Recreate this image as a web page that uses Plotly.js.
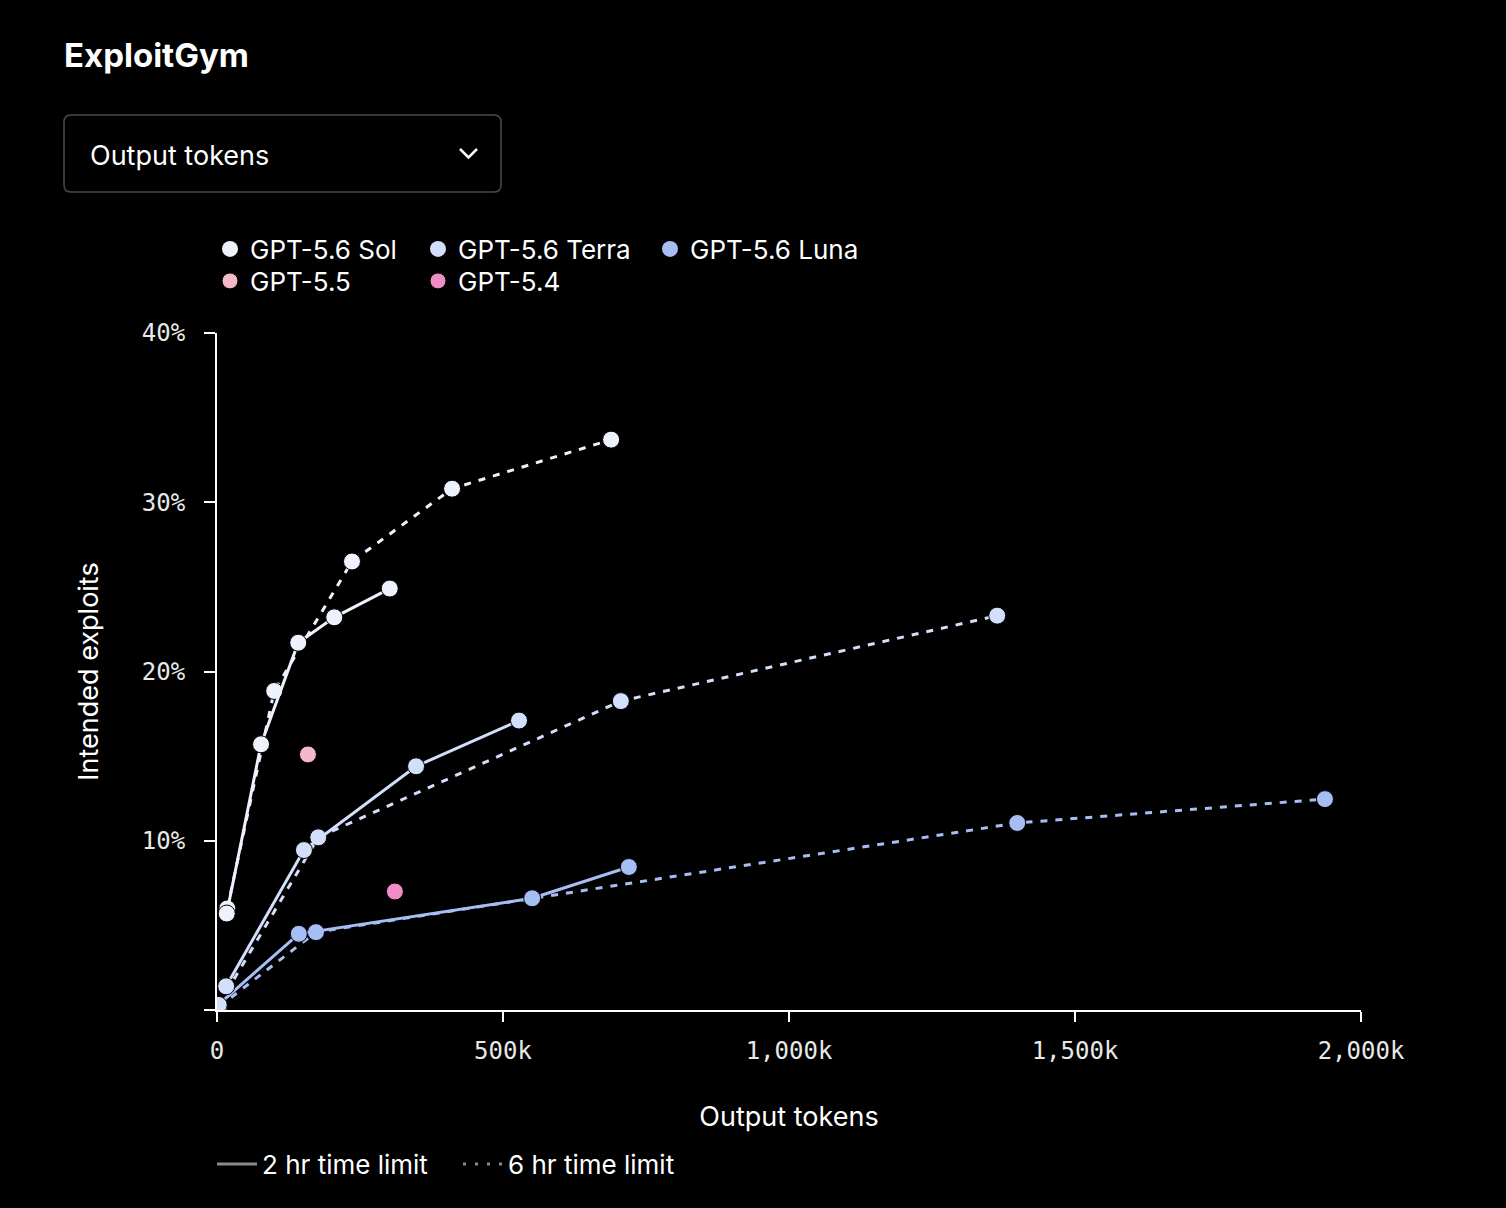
<!DOCTYPE html>
<html>
<head>
<meta charset="utf-8">
<script src="https://cdn.plot.ly/plotly-3.0.1.min.js"></script>
<style>
  html, body { margin: 0; padding: 0; background: #000; }
  #chart { width: 1506px; height: 1208px; }
</style>
</head>
<body>
<div id="chart"></div>
<script>
// ---- Data (output tokens, intended exploits %) ----
const solX2h   = [17000, 77000, 142000, 205000, 302000];
const solY2h   = [5.7, 15.7, 21.7, 23.2, 24.9];
const solX6h   = [18000, 100000, 236000, 411000, 689000];
const solY6h   = [6.0, 18.85, 26.5, 30.8, 33.7];

const terraX2h = [16000, 152000, 348000, 528000];
const terraY2h = [1.4, 9.45, 14.4, 17.1];
const terraX6h = [3000, 177000, 706000, 1364000];
const terraY6h = [0.3, 10.2, 18.25, 23.3];

const lunaX2h  = [2000, 143000, 551000, 720000];
const lunaY2h  = [0.3, 4.5, 6.6, 8.45];
const lunaX6h  = [4000, 173000, 1399000, 1937000];
const lunaY6h  = [0.2, 4.6, 11.05, 12.46];

const gpt55X = [159000];
const gpt55Y = [15.1];
const gpt54X = [311000];
const gpt54Y = [7.0];

const xTickVals = [0, 500000, 1000000, 1500000, 2000000];
const xTickText = ['0', '500k', '1,000k', '1,500k', '2,000k'];
const yTickVals = [0, 10, 20, 30, 40];
const yTickText = ['', '10%', '20%', '30%', '40%'];

// ---- Styles ----
const C = {
  sol: '#edf2fd',
  terra: '#d2dffa',
  luna: '#a7bef5',
  g55: '#f5b8c8',
  g54: '#f08cc6',
  grey: '#8a8a8a'
};
const FONT = 'Inter, "Noto Sans", sans-serif';
const MONO = '"DejaVu Sans Mono", monospace';
const MS = 17;
const DOT = '7px,8px';

function series(x, y, color, dash) {
  return {
    x: x, y: y, type: 'scatter', mode: 'lines+markers',
    line: {color: color, width: 3, dash: dash},
    marker: {color: color, size: MS, line: {color: '#000', width: 1}},
    showlegend: false, hoverinfo: 'x+y'
  };
}
function legendDot(name, color, leg) {
  return {
    x: [null], y: [null], type: 'scatter', mode: 'markers', name: name,
    marker: {color: color, size: 22}, legend: leg, showlegend: true
  };
}

const traces = [
  series(lunaX6h, lunaY6h, C.luna, DOT),
  series(lunaX2h, lunaY2h, C.luna, 'solid'),
  series(terraX6h, terraY6h, C.terra, DOT),
  series(terraX2h, terraY2h, C.terra, 'solid'),
  series(solX6h, solY6h, C.sol, DOT),
  series(solX2h, solY2h, C.sol, 'solid'),
  {x: gpt55X, y: gpt55Y, type: 'scatter', mode: 'markers', name: 'GPT-5.5',
   marker: {color: C.g55, size: MS, line: {color: '#000', width: 1}}, legend: 'legend4', showlegend: true},
  {x: gpt54X, y: gpt54Y, type: 'scatter', mode: 'markers', name: 'GPT-5.4',
   marker: {color: C.g54, size: MS, line: {color: '#000', width: 1}}, legend: 'legend5', showlegend: true},
  legendDot('GPT-5.6 Sol', C.sol, 'legend'),
  legendDot('GPT-5.6 Terra', C.terra, 'legend2'),
  legendDot('GPT-5.6 Luna', C.luna, 'legend3'),
  {x: [null], y: [null], type: 'scatter', mode: 'lines', name: '2 hr time limit',
   line: {color: C.grey, width: 3, dash: 'solid'}, legend: 'legend6', showlegend: true},
  {x: [null], y: [null], type: 'scatter', mode: 'lines', name: '6 hr time limit',
   line: {color: C.grey, width: 3, dash: '3px,9px'}, legend: 'legend7', showlegend: true}
];

// pixel -> paper helpers (plot area: x 217..1361, y 333..1010)
const L = 217, R = 145, T = 333, B = 198, W = 1506, H = 1208;
const PW = W - L - R, PH = H - T - B;
const px = p => (p - L) / PW;
const py = p => (H - B - p) / PH;

function roundRect(x0, y0, x1, y1, r) {
  return 'M' + px(x0 + r) + ',' + py(y0) +
    ' L' + px(x1 - r) + ',' + py(y0) +
    ' Q' + px(x1) + ',' + py(y0) + ' ' + px(x1) + ',' + py(y0 + r) +
    ' L' + px(x1) + ',' + py(y1 - r) +
    ' Q' + px(x1) + ',' + py(y1) + ' ' + px(x1 - r) + ',' + py(y1) +
    ' L' + px(x0 + r) + ',' + py(y1) +
    ' Q' + px(x0) + ',' + py(y1) + ' ' + px(x0) + ',' + py(y1 - r) +
    ' L' + px(x0) + ',' + py(y0 + r) +
    ' Q' + px(x0) + ',' + py(y0) + ' ' + px(x0 + r) + ',' + py(y0) + ' Z';
}

const legBase = {
  orientation: 'v', xanchor: 'left', yanchor: 'middle',
  bgcolor: 'rgba(0,0,0,0)', borderwidth: 0,
  font: {family: FONT, size: 26, color: '#ffffff'},
  tracegroupgap: 0
};
function leg(xp, yp, extra) {
  return Object.assign({}, legBase, {x: px(xp), y: py(yp)}, extra || {});
}

const layout = {
  width: W, height: H,
  paper_bgcolor: '#000', plot_bgcolor: '#000',
  margin: {l: L, r: R, t: T, b: B},
  title: {
    text: '<b>ExploitGym</b>', xref: 'container', yref: 'container',
    x: 64 / W, xanchor: 'left', y: 1 - 55 / H, yanchor: 'middle',
    font: {family: FONT, size: 33, color: '#ffffff'}
  },
  xaxis: {
    range: [0, 2000000], tickvals: xTickVals, ticktext: xTickText,
    showgrid: false, zeroline: false, showline: true, linecolor: '#ffffff', linewidth: 2,
    ticks: 'outside', ticklen: 10, tickwidth: 2, tickcolor: '#ffffff',
    ticklabelstandoff: 8,
    tickfont: {family: MONO, size: 24, color: '#e8e8e8'},
    title: {text: 'Output tokens', font: {family: FONT, size: 27, color: '#ffffff'}, standoff: 43},
    fixedrange: true
  },
  yaxis: {
    range: [0, 40], tickvals: yTickVals, ticktext: yTickText,
    showgrid: false, zeroline: false, showline: true, linecolor: '#ffffff', linewidth: 2,
    ticks: 'outside', ticklen: 11, tickwidth: 2, tickcolor: '#ffffff',
    ticklabelstandoff: 14,
    tickfont: {family: MONO, size: 24, color: '#e8e8e8'},
    title: {text: 'Intended exploits', font: {family: FONT, size: 27, color: '#ffffff'}, standoff: 35},
    fixedrange: true
  },
  legend:  leg(210, 249),
  legend2: leg(418, 249),
  legend3: leg(650, 249),
  legend4: leg(210, 281),
  legend5: leg(418, 281),
  legend6: leg(212, 1164, {itemwidth: 40}),
  legend7: leg(458, 1164, {itemwidth: 40}),
  shapes: [
    {type: 'path', xref: 'paper', yref: 'paper', path: roundRect(64, 115, 501, 192, 7),
     line: {color: '#4a4a4a', width: 1.5}, fillcolor: 'rgba(0,0,0,0)'},
    {type: 'path', xref: 'paper', yref: 'paper',
     path: 'M' + px(460) + ',' + py(149) + ' L' + px(468.5) + ',' + py(157.5) + ' L' + px(477) + ',' + py(149),
     line: {color: '#ffffff', width: 2.5}}
  ],
  annotations: [
    {text: 'Output tokens', xref: 'paper', yref: 'paper', x: px(88), y: py(155),
     xanchor: 'left', yanchor: 'middle', showarrow: false,
     font: {family: FONT, size: 27, color: '#ffffff'}}
  ]
};

Plotly.newPlot('chart', traces, layout, {displayModeBar: false, staticPlot: true});
</script>
</body>
</html>
